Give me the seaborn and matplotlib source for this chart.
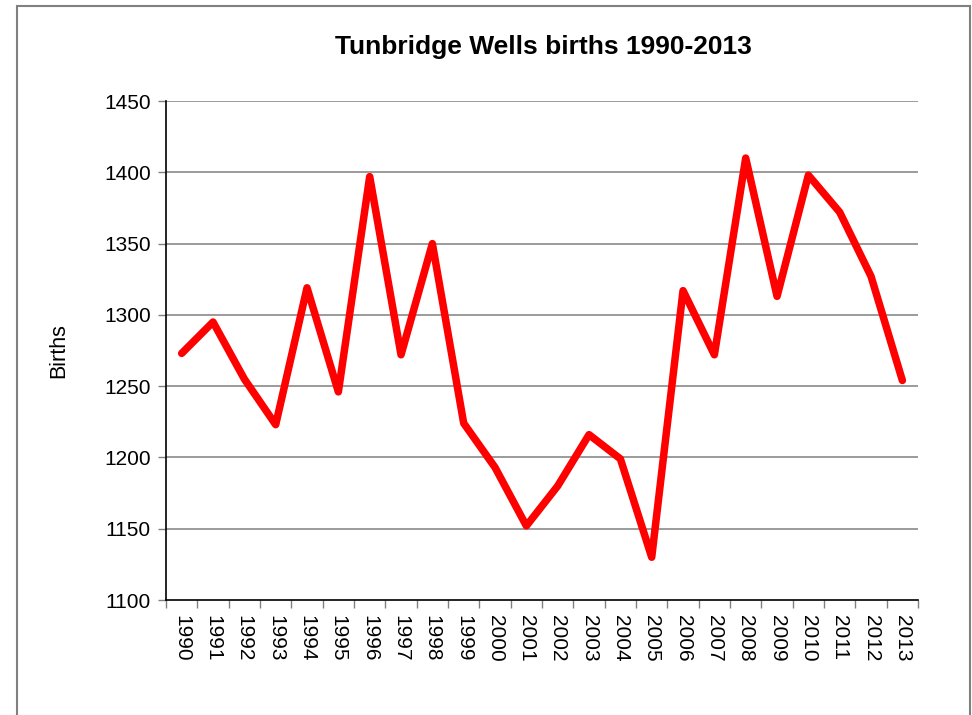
import pandas as pd
import matplotlib.pyplot as plt
import seaborn as sns
from matplotlib.patches import Rectangle
from matplotlib.ticker import FixedLocator, NullFormatter

# Dati
years = [1990, 1991, 1992, 1993, 1994, 1995, 1996, 1997, 1998, 1999, 2000, 2001,
         2002, 2003, 2004, 2005, 2006, 2007, 2008, 2009, 2010, 2011, 2012, 2013]
births = [1273, 1295, 1255, 1223, 1319, 1246, 1397, 1272, 1350, 1224, 1193, 1152,
          1180, 1216, 1199, 1130, 1317, 1272, 1410, 1313, 1398, 1372, 1327, 1254]
y_ticks = [1100, 1150, 1200, 1250, 1300, 1350, 1400, 1450]

df = pd.DataFrame({'pos': range(len(years)), 'Year': years, 'Births': births})

sns.set_theme(style="white")
plt.rcParams['font.family'] = ['Liberation Sans', 'DejaVu Sans']

fig = plt.figure(figsize=(9.72, 7.15), dpi=100)
ax = fig.add_axes([0.1708, 0.1608, 0.7737, 0.6979])

sns.lineplot(data=df, x='pos', y='Births', ax=ax, color='#ff0000', linewidth=5.4,
             solid_joinstyle='round', solid_capstyle='round')

ax.set_xlim(-0.5, len(years) - 0.5)
ax.set_ylim(1100, 1450)
ax.set_yticks(y_ticks)
ax.set_yticklabels([str(v) for v in y_ticks], fontsize=15, color='black')
for v in y_ticks[1:]:
    ax.axhline(v, color='#808080', linewidth=1.1, zorder=0)

# tacche tra le categorie, etichette al centro (stile Excel)
ax.xaxis.set_major_locator(FixedLocator([i - 0.5 for i in range(len(years) + 1)]))
ax.xaxis.set_major_formatter(NullFormatter())
ax.xaxis.set_minor_locator(FixedLocator(list(range(len(years)))))
ax.set_xticklabels([str(y) for y in years], minor=True, rotation=270, fontsize=15,
                   color='black', va='top', ha='center')
ax.tick_params(axis='x', which='major', length=6, width=1, color='#808080', direction='out', bottom=True)
ax.tick_params(axis='x', which='minor', length=0, pad=11)
ax.tick_params(axis='y', length=6, width=1, color='#808080', direction='out', left=True, pad=5)

for s in ['top', 'right']:
    ax.spines[s].set_visible(False)
for s in ['left', 'bottom']:
    ax.spines[s].set_color('black')
    ax.spines[s].set_linewidth(1.2)

ax.set_xlabel('')
ax.set_ylabel('Births', fontsize=15.5, color='black', va='center')
ax.yaxis.set_label_coords(-0.142, 0.5)
fig.text(0.559, 0.934, 'Tunbridge Wells births 1990-2013', ha='center', va='center',
         fontsize=19, fontweight='bold', color='black')

# cornice grigia
fig.patches.append(Rectangle((17 / 972, -0.05), 953 / 972, 1.05 - 6 / 715,
                             transform=fig.transFigure, fill=False,
                             edgecolor='#808080', linewidth=1.5))

plt.savefig('out.png', dpi=100)
plt.close()
